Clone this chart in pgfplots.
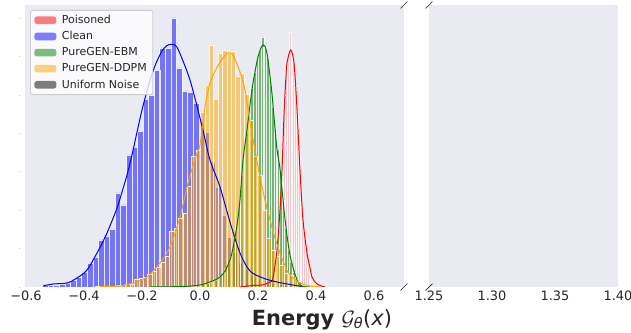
\documentclass[border=0pt]{standalone}
\usepackage{pgfplots}
\pgfplotsset{compat=1.18}
\usepackage{fontspec}
\setmainfont{DejaVu Sans}
\definecolor{sbbg}{HTML}{EAEAF2}
\definecolor{txt}{HTML}{262626}
\definecolor{sbgreen}{HTML}{008000}
\definecolor{sborange}{HTML}{FFA500}
\pgfplotsset{
  hbar/.style={ybar, bar shift=0pt, forget plot, draw=white, draw opacity=0.85, line width=0.8bp},
  kde/.style={smooth, line width=1bp, forget plot, mark=none},
}
\begin{document}
\begin{tikzpicture}[x=1bp,y=1bp]
\useasboundingbox (-25bp,-46bp) rectangle (606bp,287bp);
\begin{axis}[name=ax1, at={(0bp,0bp)}, anchor=south west, scale only axis,
  width=379bp, height=282bp, xmin=-0.6035, xmax=0.7035, ymin=0, ymax=282,
  axis line style={draw=none}, axis background/.style={fill=sbbg},
  xtick={-0.6,-0.4,-0.2,0,0.2,0.4,0.6},
  xticklabels={−0.6,−0.4,−0.2,0.0,0.2,0.4,0.6},
  x tick label style={font=\fontsize{13}{15}\selectfont, text=txt},
  ytick={0,38.4,76.8,115.2,153.6,192,230.4,268.8},
  yticklabel={\textcolor{gray!45}{\rule{1.2bp}{0.6bp}}},
  y tick label style={inner sep=0pt, xshift=-4.5bp},
  major tick length=0pt,
  legend style={at={(rel axis cs:0,1)}, anchor=north west, xshift=5bp, yshift=-5bp,
    fill=white, fill opacity=0.8, draw opacity=1, text opacity=1, draw=black!20,
    rounded corners=2.5bp, line width=0.8bp, font=\fontsize{11}{13}\selectfont, text=txt,
    row sep=2.4bp, column sep=3.5bp, inner xsep=4bp, inner ysep=3bp},
  legend cell align=left,
  legend image code/.code={\fill[#1] (0bp,-3.8bp) rectangle (22bp,3.8bp);},
]
\addlegendimage{fill=red, fill opacity=0.5, draw=none}
\addlegendentry{Poisoned}
\addlegendimage{fill=blue, fill opacity=0.5, draw=none}
\addlegendentry{Clean}
\addlegendimage{fill=sbgreen, fill opacity=0.5, draw=none}
\addlegendentry{PureGEN-EBM}
\addlegendimage{fill=sborange, fill opacity=0.5, draw=none}
\addlegendentry{PureGEN-DDPM}
\addlegendimage{fill=black, fill opacity=0.5, draw=none}
\addlegendentry{Uniform Noise}

% Poisoned histogram
\addplot[hbar, bar width=0.0062, fill=red, fill opacity=0.15] coordinates {
(0.2552,11) (0.2614,19) (0.2676,37) (0.2738,65) (0.2800,102) (0.2862,152) (0.2924,192)
(0.2986,219) (0.3048,232) (0.3110,255) (0.3172,235) (0.3234,225) (0.3297,202) (0.3359,172)
(0.3421,132) (0.3483,97) (0.3545,69) (0.3607,49) (0.3669,35) (0.3731,25) (0.3793,17)};
% Clean histogram
\addplot[hbar, bar width=0.01924, fill=blue, fill opacity=0.5] coordinates {
(-0.5328,2) (-0.5135,2) (-0.4943,1.5) (-0.4750,3) (-0.4558,4) (-0.4366,7) (-0.4173,10)
(-0.3981,15) (-0.3788,24) (-0.3596,30) (-0.3403,47) (-0.3211,51) (-0.3019,58) (-0.2826,94)
(-0.2634,82) (-0.2441,132) (-0.2249,140) (-0.2057,156) (-0.1864,188) (-0.1672,192)
(-0.1479,217) (-0.1287,239) (-0.1094,239) (-0.0902,269) (-0.0710,219) (-0.0517,196)
(-0.0325,195) (-0.0132,184) (0.0060,165) (0.0252,155) (0.0445,125) (0.0637,100) (0.0830,72)
(0.1022,50) (0.1214,35) (0.1407,25) (0.1599,18) (0.1792,12) (0.1984,9) (0.2177,6)
(0.2369,5) (0.2561,4) (0.2754,3) (0.2946,2) (0.3139,1.5) (0.3331,1)};
% PureGEN-EBM histogram
\addplot[hbar, bar width=0.00897, fill=sbgreen, fill opacity=0.5] coordinates {
(-0.0262,1) (-0.0172,1) (-0.0083,1.5) (0.0007,2) (0.0097,2.5) (0.0186,3) (0.0276,4)
(0.0366,5) (0.0455,6) (0.0545,7) (0.0634,9) (0.0724,11) (0.0814,15) (0.0903,19) (0.0993,24)
(0.1083,31) (0.1172,44) (0.1262,59) (0.1352,82) (0.1441,112) (0.1531,137) (0.1621,155)
(0.1710,179) (0.1800,199) (0.1890,215) (0.1979,229) (0.2069,237) (0.2159,250) (0.2248,240)
(0.2338,229) (0.2428,207) (0.2517,180) (0.2607,159) (0.2697,138) (0.2786,115) (0.2876,87)
(0.2966,59) (0.3055,37) (0.3145,25) (0.3234,15) (0.3324,8) (0.3414,4) (0.3503,2)};
% PureGEN-DDPM histogram
\addplot[hbar, bar width=0.01517, fill=sborange, fill opacity=0.5] coordinates {
(-0.3545,0.5) (-0.3393,0.5) (-0.3241,1) (-0.3090,0.5) (-0.2938,1) (-0.2786,1.5) (-0.2634,2)
(-0.2483,2.5) (-0.2331,3) (-0.2179,8) (-0.2028,9) (-0.1876,10) (-0.1724,13) (-0.1572,16)
(-0.1421,20) (-0.1269,25) (-0.1117,31) (-0.0966,56) (-0.0814,59) (-0.0662,69) (-0.0510,74)
(-0.0359,101) (-0.0207,131) (-0.0055,137) (0.0097,175) (0.0248,202) (0.0400,242) (0.0552,188)
(0.0703,234) (0.0855,237) (0.1007,234) (0.1159,236) (0.1310,211) (0.1462,214) (0.1614,193)
(0.1766,167) (0.1917,131) (0.2069,112) (0.2221,77) (0.2372,49) (0.2524,37) (0.2676,31)
(0.2828,22) (0.2979,14) (0.3131,12) (0.3283,8) (0.3434,4) (0.3586,2) (0.3738,1)};

% KDE curves
\addplot[kde, red] coordinates {
(0.1379,0) (0.1828,1.5) (0.2138,2) (0.2414,5) (0.2517,9) (0.2655,37) (0.2759,77) (0.2828,117)
(0.2897,172) (0.2948,202) (0.3000,224) (0.3128,237) (0.3241,224) (0.3334,184) (0.3448,117)
(0.3552,67) (0.3690,34) (0.3793,19) (0.3862,10) (0.4000,4) (0.4138,1.5) (0.4310,0)};
\addplot[kde, blue] coordinates {
(-0.5414,1) (-0.5069,3) (-0.4586,4) (-0.4241,9) (-0.3897,17) (-0.3552,34) (-0.3207,54)
(-0.2862,79) (-0.2690,95) (-0.2517,112) (-0.2345,132) (-0.2172,155) (-0.2000,177)
(-0.1828,196) (-0.1655,213) (-0.1483,226) (-0.1310,236)
(-0.1148,241.3) (-0.0976,242.7) (-0.0803,240.3) (-0.0576,225.3) (-0.0345,207) (-0.0114,182)
(0.0114,155.3) (0.0345,127) (0.0690,100) (0.1034,65) (0.1379,34) (0.1724,16) (0.2172,9)
(0.2655,5) (0.3207,2) (0.3621,0)};
\addplot[kde, sbgreen] coordinates {
(-0.1724,0) (-0.0586,0.5) (0.0000,2) (0.0241,4) (0.0517,7) (0.0690,10) (0.0862,16) (0.1034,27)
(0.1138,39) (0.1276,62) (0.1379,87) (0.1483,127) (0.1621,157) (0.1724,182) (0.1828,204)
(0.2000,230) (0.2162,242) (0.2300,235) (0.2472,196) (0.2645,140) (0.2759,118) (0.2931,68)
(0.3103,32) (0.3334,8) (0.3507,1) (0.3793,0)};
\addplot[kde, sborange] coordinates {
(-0.3448,0.5) (-0.2759,1) (-0.2310,4) (-0.1828,10) (-0.1379,24) (-0.1034,40) (-0.0690,70)
(-0.0414,104) (-0.0103,134) (0.0000,142) (0.0172,180) (0.0345,204) (0.0576,219) (0.0793,229)
(0.0966,234) (0.1138,232) (0.1379,215) (0.1552,197) (0.1724,165) (0.1897,137) (0.2069,110)
(0.2241,87) (0.2414,67) (0.2586,49) (0.2759,34) (0.2931,21) (0.3103,12) (0.3448,4)
(0.3793,1) (0.4138,0)};
\end{axis}

\begin{axis}[name=ax2, at={(404bp,0bp)}, anchor=south west, scale only axis,
  width=189bp, height=282bp, xmin=1.25, xmax=1.40, ymin=0, ymax=282,
  axis line style={draw=none}, axis background/.style={fill=sbbg},
  xtick={1.25,1.30,1.35,1.40}, xticklabels={1.25,1.30,1.35,1.40},
  x tick label style={font=\fontsize{13}{15}\selectfont, text=txt},
  ytick=\empty, major tick length=0pt,
]
\addplot[draw=none, forget plot] coordinates {(1.3,-10)};
\end{axis}

% broken-axis marks
\foreach \c in {ax1.north east, ax1.south east, ax2.north west, ax2.south west}{
  \draw[line width=0.7bp, txt] (\c) ++(-3.4bp,-3.4bp) -- ++(6.8bp,6.8bp);
}
\node[anchor=base, text=txt, inner sep=0pt] at (297bp,-38bp)
  {\fontsize{21}{24}\selectfont\bfseries Energy \mdseries$\mathcal{G}_{\mbox{\fontsize{14.5}{16}\selectfont\itshape θ}}$(\textit{x})};
\end{tikzpicture}
\end{document}
